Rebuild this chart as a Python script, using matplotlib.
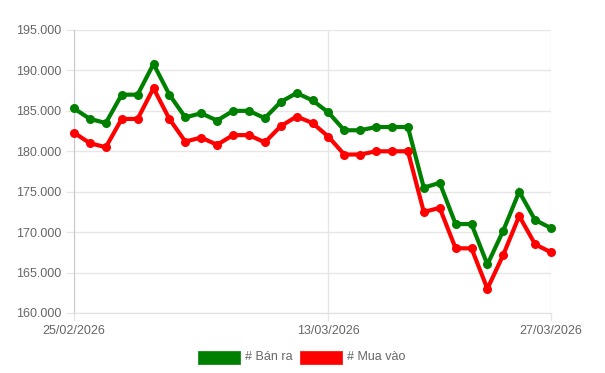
import matplotlib
matplotlib.use("Agg")
import matplotlib.pyplot as plt
from matplotlib.patches import Rectangle
from matplotlib.ticker import FuncFormatter
import pandas as pd

dates = [d.strftime("%d/%m/%Y") for d in pd.date_range("2026-02-25", "2026-03-27", freq="D")]
tick_labels = ["25/02/2026", "13/03/2026", "27/03/2026"]

ban_ra = [185300, 184000, 183500, 187000, 187000, 190800, 187000, 184200, 184700, 183800,
          185000, 185000, 184100, 186100, 187200, 186300, 184800, 182600, 182600, 183000,
          183000, 183000, 175500, 176100, 171000, 171000, 166000, 170200, 175000, 171500, 170500]
mua_vao = [182300, 181000, 180500, 184000, 184000, 187800, 184000, 181200, 181700, 180800,
           182000, 182000, 181100, 183100, 184300, 183500, 181800, 179600, 179600, 180000,
           180000, 180000, 172500, 173000, 168000, 168000, 163000, 167200, 172000, 168500, 167500]
series_names = ["# Bán ra", "# Mua vào"]
colors = ["#008000", "#ff0000"]

plt.rcParams['font.family'] = ['Liberation Sans', 'DejaVu Sans']
W, H = 605, 373
fig = plt.figure(figsize=(W / 100, H / 100), dpi=100)
L, R, T, B = 74, 551, 30, 313
ax = fig.add_axes([L / W, (H - B) / H, (R - L) / W, (B - T) / H])

x = list(range(len(dates)))
for vals, c in zip([ban_ra, mua_vao], colors):
    ax.plot(x, vals, color=c, lw=3, marker='o', ms=6.5, markeredgewidth=0, zorder=3,
            solid_joinstyle='miter', clip_on=False)

ax.set_xlim(0, len(dates) - 1)
ax.set_ylim(160000, 195000)
ax.set_yticks(range(160000, 195001, 5000))
ax.yaxis.set_major_formatter(FuncFormatter(lambda v, p: f"{int(v):,}".replace(",", ".")))
ax.set_xticks([dates.index(t) for t in tick_labels])
ax.set_xticklabels(tick_labels)

grid_c = "#e6e6e6"
ax.grid(True, color=grid_c, lw=1, zorder=0)
for s in ["top", "right"]:
    ax.spines[s].set_visible(False)
ax.spines["left"].set_color("#c8c8c8")
ax.spines["bottom"].set_color("#e0e0e0")
ax.tick_params(axis='y', length=6, width=1, color=grid_c, labelsize=9, labelcolor="#666666", pad=3)
ax.tick_params(axis='x', length=6, width=1, color=grid_c, labelsize=9, labelcolor="#666666", pad=3)
ax.set_axisbelow(True)

# legend
ly = 351
for (bx, tx), name, c in zip([(198, 245), (300, 347)], series_names, colors):
    fig.add_artist(Rectangle((bx / W, (H - ly - 13) / H), 42 / W, 13 / H,
                             transform=fig.transFigure, facecolor=c, edgecolor=c, lw=0.5))
    fig.text(tx / W, (H - ly - 6.5) / H, name, ha='left', va='center', fontsize=9, color="#666666")

fig.savefig("out.png", dpi=100)
